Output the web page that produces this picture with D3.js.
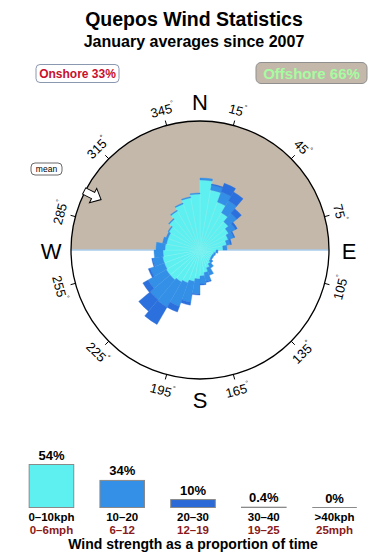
<!DOCTYPE html>
<html>
<head>
<meta charset="utf-8">
<script src="https://cdn.jsdelivr.net/npm/d3@7"></script>
<style>
  body { margin: 0; background: #fff; }
  text { font-family: "Liberation Sans", Arial, Helvetica, sans-serif; }
</style>
</head>
<body>
<svg id="chart" width="390" height="560"></svg>
<script>
// sector start angles (compass degrees, 10 degree bins)
const directions = [0, 10, 20, 30, 40, 50, 60, 70, 80, 90, 100, 110, 120, 130, 140, 150, 160, 170,
  180, 190, 200, 210, 220, 230, 240, 250, 260, 270, 280, 290, 300, 310, 320, 330, 340, 350];

// relative frequency per direction for each speed class
const speed0to10 = [7.0, 6.1, 5.1, 4.3, 3.7, 3.3, 3.0, 2.7, 2.3, 1.6, 1.4, 1.3, 1.3, 1.4, 1.6, 1.9, 2.3, 2.6,
  2.9, 3.2, 3.5, 3.7, 3.9, 3.9, 3.8, 3.8, 3.7, 3.5, 3.4, 3.4, 3.6, 4.0, 4.5, 4.9, 5.3, 5.6];
const speed10to20 = [0.2, 0.5, 1.1, 1.4, 1.1, 0.8, 0.6, 0.4, 0.4, 0.2, 0.2, 0.2, 0.2, 0.3, 0.5, 0.8, 0.9, 0.8,
  1.5, 2.1, 2.5, 2.9, 2.6, 2.1, 1.5, 1.0, 0.9, 0.9, 0.4, 0.2, 0.1, 0.1, 0.1, 0.1, 0.1, 0.1];
const speed20to30 = [0.0, 0.1, 0.9, 1.0, 0.6, 0.2, 0.1, 0.1, 0.0, 0.0, 0.0, 0.0, 0.0, 0.0, 0.0, 0.0, 0.1, 0.1,
  0.1, 0.3, 0.6, 2.0, 1.5, 0.6, 0.2, 0.1, 0.0, 0.0, 0.0, 0.0, 0.0, 0.0, 0.0, 0.0, 0.0, 0.0];

const roseColors = ["#5eeff0", "#3490e6", "#2b70dc"];

const degreeTicks = [15, 45, 75, 105, 135, 165, 195, 225, 255, 285, 315, 345];
const cardinals = ["N", "E", "S", "W"];
const cardinalAngles = [0, 90, 180, 270];

const onshoreLabel = "Onshore 33%";
const offshoreLabel = "Offshore 66%";
const meanDirection = 297;

// legend: proportion of time in each speed class
const speedLabels = ["0–10kph", "10–20", "20–30", "30–40", ">40kph"];
const mphLabels = ["0–6mph", "6–12", "12–19", "19–25", "25mph"];
const classShares = [54, 34, 10, 0.4, 0];
const shareLabels = ["54%", "34%", "10%", "0.4%", "0%"];
const legendColors = ["#5eeff0", "#3490e6", "#2b6ad6", "#2b6ad6", "#2b6ad6"];

const svg = d3.select("#chart");
const cx = 200, cy = 250, R = 129;
const rad = d => d * Math.PI / 180;

// titles
svg.append("text")
  .attr("x", 194).attr("y", 26)
  .attr("text-anchor", "middle")
  .attr("font-size", 19.5).attr("font-weight", "bold")
  .text("Quepos Wind Statistics");

svg.append("text")
  .attr("x", 194).attr("y", 47)
  .attr("text-anchor", "middle")
  .attr("font-size", 16).attr("font-weight", "bold")
  .text("January averages since 2007");

// onshore / offshore boxes
svg.append("rect")
  .attr("x", 36).attr("y", 64.5).attr("width", 83).attr("height", 18).attr("rx", 4)
  .attr("fill", "#fff").attr("stroke", "#8a98b0");
svg.append("text")
  .attr("x", 77.5).attr("y", 77.5)
  .attr("text-anchor", "middle")
  .attr("font-size", 12).attr("font-weight", "bold").attr("fill", "#c8102e")
  .text(onshoreLabel);

svg.append("rect")
  .attr("x", 256).attr("y", 62.5).attr("width", 111).attr("height", 21).attr("rx", 5)
  .attr("fill", "#c4b8ab").attr("stroke", "#8f8f8f");
svg.append("text")
  .attr("x", 311.5).attr("y", 78.5)
  .attr("text-anchor", "middle")
  .attr("font-size", 15).attr("font-weight", "bold").attr("fill", "#a6fca0")
  .text(offshoreLabel);

// compass
const g = svg.append("g").attr("transform", `translate(${cx},${cy})`);

g.append("path")
  .attr("d", d3.arc()({ innerRadius: 0, outerRadius: R, startAngle: -Math.PI / 2, endAngle: Math.PI / 2 }))
  .attr("fill", "#c4b8ab");

g.append("line")
  .attr("x1", -R).attr("x2", R).attr("y1", 0).attr("y2", 0)
  .attr("stroke", "#a9cdea").attr("stroke-width", 1.5);

// rose
const rScale = d3.scaleLinear().domain([0, 10]).range([0, 100]);
const layers = [speed0to10, speed10to20, speed20to30];
const arc = d3.arc();

layers.forEach((layer, li) => {
  const cells = directions.map((dir, i) => {
    let inner = 0;
    for (let k = 0; k < li; k++) inner += layers[k][i];
    return { dir, inner, outer: inner + layer[i] };
  }).filter(d => d.outer > d.inner);

  g.selectAll(null)
    .data(cells)
    .join("path")
    .attr("d", d => arc({
      innerRadius: rScale(d.inner),
      outerRadius: rScale(d.outer),
      startAngle: rad(d.dir),
      endAngle: rad(d.dir + 10)
    }))
    .attr("fill", roseColors[li])
    .attr("stroke", li === 0 ? "#7df2f2" : roseColors[li])
    .attr("stroke-width", li === 0 ? 0.6 : 0.4);
});

g.append("circle")
  .attr("r", R)
  .attr("fill", "none")
  .attr("stroke", "#000")
  .attr("stroke-width", 1.3);

// ticks and degree labels
g.selectAll("line.tick")
  .data(degreeTicks)
  .join("line")
  .attr("class", "tick")
  .attr("x1", d => R * Math.sin(rad(d)))
  .attr("y1", d => -R * Math.cos(rad(d)))
  .attr("x2", d => (R + 5) * Math.sin(rad(d)))
  .attr("y2", d => -(R + 5) * Math.cos(rad(d)))
  .attr("stroke", "#000");

const degLabels = g.selectAll("text.deg")
  .data(degreeTicks)
  .join("text")
  .attr("class", "deg")
  .attr("font-size", 13)
  .attr("text-anchor", "middle")
  .attr("dominant-baseline", "central")
  .attr("transform", d => {
    const x = 145 * Math.sin(rad(d)), y = -145 * Math.cos(rad(d));
    const rot = (d > 90 && d < 270) ? d - 180 : d;
    return `translate(${x},${y}) rotate(${rot})`;
  });
degLabels.append("tspan").text(d => d);
degLabels.append("tspan").attr("font-size", 7).attr("dy", -5).text("°");

g.selectAll("text.card")
  .data(cardinals)
  .join("text")
  .attr("class", "card")
  .attr("font-size", 22)
  .attr("text-anchor", "middle")
  .attr("dominant-baseline", "central")
  .attr("x", (d, i) => 149 * Math.sin(rad(cardinalAngles[i])))
  .attr("y", (d, i) => -149 * Math.cos(rad(cardinalAngles[i])) + 1)
  .text(d => d);

// mean direction arrow
const ax = 121 * Math.sin(rad(meanDirection)), ay = -121 * Math.cos(rad(meanDirection));
const arot = Math.atan2(-ay, -ax) * 180 / Math.PI;
g.append("path")
  .attr("d", "M-9,-3.5L1,-3.5L1,-8L10,0L1,8L1,3.5L-9,3.5Z")
  .attr("transform", `translate(${ax},${ay}) rotate(${arot})`)
  .attr("fill", "#fff").attr("stroke", "#000").attr("stroke-width", 1);

svg.append("rect")
  .attr("x", 31).attr("y", 163).attr("width", 31).attr("height", 12).attr("rx", 4)
  .attr("fill", "#fff").attr("stroke", "#444").attr("stroke-width", 0.8);
svg.append("text")
  .attr("x", 46.5).attr("y", 172)
  .attr("text-anchor", "middle").attr("font-size", 8.5)
  .text("mean");

// legend bars
const lx = d3.scaleBand().domain(speedLabels).range([15, 371]).paddingInner(0.37).paddingOuter(0.2);
const ly = d3.scaleLinear().domain([0, 54]).range([0, 43]);
const base = 507.5;

svg.selectAll("rect.bar")
  .data(classShares)
  .join("rect")
  .attr("class", "bar")
  .attr("x", (d, i) => lx(speedLabels[i]))
  .attr("y", d => base - ly(d))
  .attr("width", lx.bandwidth())
  .attr("height", d => ly(d))
  .attr("fill", (d, i) => legendColors[i])
  .attr("stroke", "#8a8a8a")
  .attr("stroke-width", 1);

svg.selectAll("line.base")
  .data(speedLabels)
  .join("line")
  .attr("class", "base")
  .attr("x1", d => lx(d)).attr("x2", d => lx(d) + lx.bandwidth())
  .attr("y1", base).attr("y2", base)
  .attr("stroke", "#8a8a8a").attr("stroke-width", 1.2);

svg.selectAll("text.share")
  .data(shareLabels)
  .join("text")
  .attr("class", "share")
  .attr("x", (d, i) => lx(speedLabels[i]) + lx.bandwidth() / 2)
  .attr("y", (d, i) => Math.min(base - ly(classShares[i]) - 5, 503))
  .attr("text-anchor", "middle")
  .attr("font-size", 13).attr("font-weight", "bold")
  .text(d => d);

svg.selectAll("text.kph")
  .data(speedLabels)
  .join("text")
  .attr("class", "kph")
  .attr("x", d => lx(d) + lx.bandwidth() / 2)
  .attr("y", 521)
  .attr("text-anchor", "middle")
  .attr("font-size", 11.5).attr("font-weight", "bold")
  .text(d => d);

svg.selectAll("text.mph")
  .data(mphLabels)
  .join("text")
  .attr("class", "mph")
  .attr("x", (d, i) => lx(speedLabels[i]) + lx.bandwidth() / 2)
  .attr("y", 534)
  .attr("text-anchor", "middle")
  .attr("font-size", 11.5).attr("font-weight", "bold").attr("fill", "#8b1a1a")
  .text(d => d);

svg.append("text")
  .attr("x", 193).attr("y", 549)
  .attr("text-anchor", "middle")
  .attr("font-size", 14).attr("font-weight", "bold")
  .text("Wind strength as a proportion of time");
</script>
</body>
</html>
